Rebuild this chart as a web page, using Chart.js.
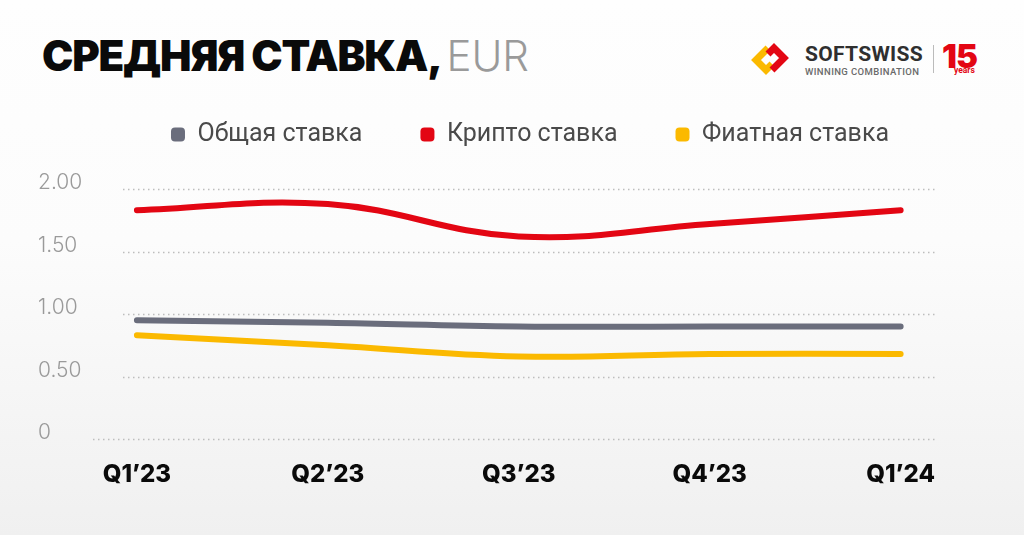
<!DOCTYPE html>
<html>
<head>
<meta charset="utf-8">
<script src="https://cdn.jsdelivr.net/npm/chart.js@4.4.1/dist/chart.umd.min.js"></script>
<style>
  html, body { margin: 0; padding: 0; }
  body {
    width: 1024px; height: 535px; overflow: hidden; position: relative;
    background: linear-gradient(180deg, #fefefe 0%, #fcfcfc 45%, #f0f0f0 100%);
    font-family: Inter, "Noto Sans", sans-serif;
  }
  .title {
    position: absolute; left: 42px; top: 35px;
    font-size: 42px; line-height: 42px; font-weight: 900; color: #0a0a0a;
    letter-spacing: -1.2px; white-space: nowrap;
  }
  .title span { font-weight: 300; color: #9a9a9a; letter-spacing: 0; }
  .logo { position: absolute; left: 746px; top: 40px; width: 240px; height: 40px; }
  .logo .name { position: absolute; left: 59px; top: 2px; font: 700 21px Roboto, sans-serif; color: #2f2f2f; letter-spacing: 0.3px; }
  .logo .sub { position: absolute; left: 59px; top: 26px; font: 500 9.5px Roboto, sans-serif; color: #6a6a6a; letter-spacing: 0.4px; }
  .logo .sep { position: absolute; left: 187px; top: 5px; width: 1px; height: 28px; background: #bbb; }
  .logo .yrs { position: absolute; left: 196px; top: -4px; font: 900 33px Inter, sans-serif; color: #e30613; letter-spacing: -1px; }
  .logo .yrs2 { position: absolute; left: 208px; top: 25px; font: 700 8.5px Roboto, sans-serif; color: #e30613; }
  canvas { position: absolute; left: 0; top: 0; }
</style>
</head>
<body>
<div class="title">СРЕДНЯЯ СТАВКА, <span>EUR</span></div>
<div class="logo">
  <svg width="56" height="40" viewBox="0 0 56 40">
    <path d="M22 8 L10 20 L20 30 L26 24" fill="none" stroke="#fbb900" stroke-width="7" stroke-linejoin="miter"/>
    <path d="M26 30 L38 18 L28 8 L22 14" fill="none" stroke="#e30613" stroke-width="7" stroke-linejoin="miter"/>
  </svg>
  <div class="name">SOFTSWISS</div>
  <div class="sub">WINNING COMBINATION</div>
  <div class="sep"></div>
  <div class="yrs">15</div>
  <div class="yrs2">years</div>
</div>
<canvas id="myChart" width="1024" height="535"></canvas>
<script>
var quarters = ['Q1’23', 'Q2’23', 'Q3’23', 'Q4’23', 'Q1’24'];
var totalRate = [0.95, 0.93, 0.90, 0.90, 0.90];
var cryptoRate = [1.83, 1.88, 1.62, 1.72, 1.83];
var fiatRate = [0.83, 0.75, 0.66, 0.68, 0.68];
var yTicks = [0, 0.5, 1, 1.5, 2];

function toPoints(values) {
  return values.map((v, i) => ({ x: i, y: v }));
}

// dotted horizontal grid, the zero line runs a bit further left
const dottedGrid = {
  id: 'dottedGrid',
  beforeDatasetsDraw(chart) {
    const ctx = chart.ctx;
    const area = chart.chartArea;
    const y = chart.scales.y;
    ctx.save();
    ctx.strokeStyle = '#bdbdbd';
    ctx.lineWidth = 1.5;
    ctx.setLineDash([1.5, 3.5]);
    yTicks.forEach(v => {
      const py = Math.round(y.getPixelForValue(v)) + 0.5;
      ctx.beginPath();
      ctx.moveTo(v === 0 ? area.left : area.left + 30, py);
      ctx.lineTo(area.right, py);
      ctx.stroke();
    });
    ctx.restore();
  }
};

const legendSpace = {
  id: 'legendSpace',
  beforeInit(chart) {
    const fit = chart.legend.fit;
    chart.legend.fit = function () {
      fit.call(this);
      this.height += 32;
    };
  },
  afterLayout(chart) {
    chart.legend.left += 16;
    chart.legend.right += 16;
  }
};

const ctx = document.getElementById('myChart').getContext('2d');

const chart = new Chart(ctx, {
  type: 'line',
  data: {
    datasets: [{
      label: 'Общая ставка',
      data: toPoints(totalRate),
      borderColor: '#6a6d7c',
      backgroundColor: '#6a6d7c'
    }, {
      label: 'Крипто ставка',
      data: toPoints(cryptoRate),
      borderColor: '#e30613',
      backgroundColor: '#e30613'
    }, {
      label: 'Фиатная ставка',
      data: toPoints(fiatRate),
      borderColor: '#fbb900',
      backgroundColor: '#fbb900'
    }]
  },
  options: {
    responsive: false,
    animation: false,
    elements: {
      line: { borderWidth: 6, tension: 0.4, borderCapStyle: 'round', borderJoinStyle: 'round' },
      point: { radius: 0, hoverRadius: 0 }
    },
    layout: { padding: { left: 38, right: 89, top: 64, bottom: 0 } },
    plugins: {
      tooltip: { enabled: false },
      legend: {
        position: 'top',
        fullSize: false,
        labels: {
          font: { family: 'Roboto', size: 25 },
          color: '#4a4a4a',
          boxWidth: 14,
          boxHeight: 14,
          useBorderRadius: true,
          borderRadius: 4,
          padding: 58,
          generateLabels: (c) => Chart.defaults.plugins.legend.labels.generateLabels(c)
            .map(l => Object.assign(l, { lineWidth: 0 }))
        }
      }
    },
    scales: {
      x: {
        type: 'linear',
        min: -0.23,
        max: 4.18,
        grid: { display: false, drawTicks: false },
        border: { display: false },
        afterFit: (s) => { s.height = 96; },
        afterBuildTicks: (s) => { s.ticks = quarters.map((q, i) => ({ value: i })); },
        ticks: {
          padding: 21,
          color: '#0a0a0a',
          font: { family: 'Inter', size: 24, weight: '800' },
          callback: (v) => quarters[v]
        }
      },
      y: {
        min: 0,
        max: 2,
        grid: { display: false, drawTicks: false },
        border: { display: false },
        afterFit: (s) => { s.width = 55; },
        afterBuildTicks: (s) => { s.ticks = yTicks.map(v => ({ value: v })); },
        ticks: {
          crossAlign: 'far',
          labelOffset: -6,
          color: '#9a9a9a',
          font: { family: 'Inter', size: 21, weight: '300' },
          callback: (v) => v === 0 ? '0' : v.toFixed(2)
        }
      }
    }
  },
  plugins: [dottedGrid, legendSpace]
});
</script>
</body>
</html>
